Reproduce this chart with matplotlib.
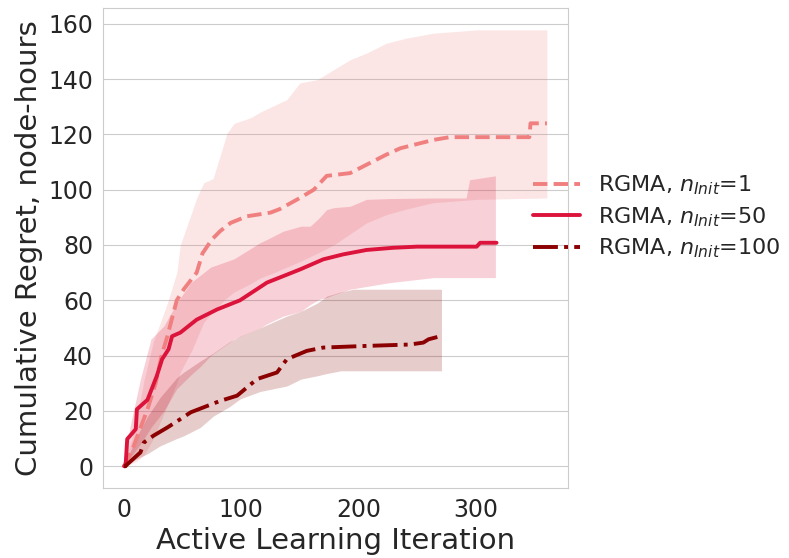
import numpy as np
import matplotlib
matplotlib.use("Agg")
import matplotlib.pyplot as plt
import seaborn as sns


# n_init = 1  (mean, band lower, band upper)
it_1 = [0, 8, 20, 27, 32, 37, 45, 51, 62, 67, 75, 82, 91, 105, 125, 133, 148,
        162, 173, 193, 224, 236, 264, 278, 346, 347, 361]
mean_1 = [0, 7, 20.6, 30, 40, 47, 60, 64, 70, 77, 82, 85, 88, 90.4, 91.7, 93,
          96.5, 100, 105, 106, 112.7, 115, 118, 119, 119, 124, 124]

band_it_1 = [0, 10, 17, 25, 37, 45, 48, 58, 62, 68, 76, 88, 94, 108, 116, 128,
             139, 150, 165, 179, 193, 207, 224, 241, 264, 301, 361]
upper_1 = [0, 15, 31, 45, 59, 70, 80, 92, 97, 102.5, 104, 120.5, 124, 126, 128,
           130.4, 132.6, 138.6, 139.8, 143.4, 147, 149.4, 153, 154.8, 156.6,
           157.8, 157.8]
lower_1 = [0, 1.5, 4, 10, 22, 30, 34, 42, 46, 52, 56, 61, 63, 66, 68, 70,
           72, 74, 77, 80, 84, 88, 91, 93, 95.3, 96.5, 97]

# n_init = 50
it_50 = [0, 1.3, 2.7, 10, 11, 20, 28, 32.5, 38, 41, 48, 62, 79.5, 99, 122,
         150.5, 170, 187, 207, 230, 250, 301, 304, 318]
mean_50 = [0, 0, 9.8, 13.4, 20.6, 24, 32.7, 38.7, 42.3, 47, 48.3, 53, 56.7,
           60, 66.4, 71.2, 74.8, 76.6, 78.2, 79, 79.4, 79.4, 80.8, 80.8]

band_it_50 = [0, 5, 14, 23, 34, 45, 57, 65, 74, 94, 116, 122, 136, 151, 159,
              167, 173, 179, 193, 207, 227, 264, 292, 295, 317]
upper_50 = [0, 14, 31.5, 46, 50.7, 59, 66.4, 69, 72, 75, 80.8, 82, 85, 86.8,
            86.8, 90, 92.8, 93.5, 94, 96.5, 96.8, 97, 97, 103.6, 105]
lower_50 = [0, 3, 8, 14, 20, 28, 33, 36, 40, 46, 50, 51.5, 54.3, 56, 58.5,
            60.4, 61, 62, 64, 65, 66.4, 68.2, 68.2, 68.2, 68.2]

# n_init = 100
it_100 = [0, 1, 14, 17, 25, 37, 48, 57, 68, 82, 96.5, 105, 113.5, 130.6, 139,
          156, 170, 207, 244, 255.5, 260, 270]
mean_100 = [0, 0, 5, 8.6, 11, 14, 17, 19.5, 21.3, 23.6, 25.5, 28.5, 31.5,
            33.9, 38.7, 41.7, 42.9, 43.5, 44, 44.7, 45.9, 47]

band_it_100 = [0, 10, 20, 31, 45, 51, 65, 76.5, 90, 99, 116, 139, 151, 165,
               173, 185, 196, 271]
upper_100 = [0, 10, 18, 25, 32, 34, 38, 41, 45, 47, 50, 54.3, 56, 59, 61.5,
             63, 64, 64]
lower_100 = [0, 2.5, 4.5, 7.4, 10, 11, 14, 18.2, 21.5, 24.3, 27, 29, 31.5,
             32.7, 33.5, 34.5, 34.5, 34.5]

labels = [r"RGMA, $n_{Init}$=1", r"RGMA, $n_{Init}$=50",
          r"RGMA, $n_{Init}$=100"]
colors = ["lightcoral", "crimson", "darkred"]
styles = ["--", "-", "-."]


sns.set_style("whitegrid")
plt.rcParams["font.family"] = ["DejaVu Sans"]

fig = plt.figure(figsize=(7.89, 5.58), dpi=100)
ax = fig.add_axes([0.1305, 0.1254, 0.5894, 0.8602])

series = [
    (it_1, mean_1, band_it_1, lower_1, upper_1),
    (it_50, mean_50, band_it_50, lower_50, upper_50),
    (it_100, mean_100, band_it_100, lower_100, upper_100),
]

for (x, m, bx, lo, hi), lab, c, ls in zip(series, labels, colors, styles):
    ax.plot(x, m, color=c, linestyle=ls, linewidth=2.8, label=lab)
    ax.fill_between(bx, lo, hi, color=c, alpha=0.2, linewidth=0)

ax.set_xlim(-18, 379)
ax.set_ylim(-7.9, 165.7)
ax.set_xticks([0, 100, 200, 300])
ax.set_yticks(np.arange(0, 161, 20))
ax.xaxis.grid(False)
ax.tick_params(labelsize=17)

ax.set_xlabel("Active Learning Iteration", fontsize=21)
ax.set_ylabel("Cumulative Regret, node-hours", fontsize=21)

ax.legend(loc="center left", bbox_to_anchor=(0.882, 0.565), frameon=False,
          fontsize=16, labelspacing=0.35, handlelength=2.1)

fig.savefig("out.png", dpi=100)
